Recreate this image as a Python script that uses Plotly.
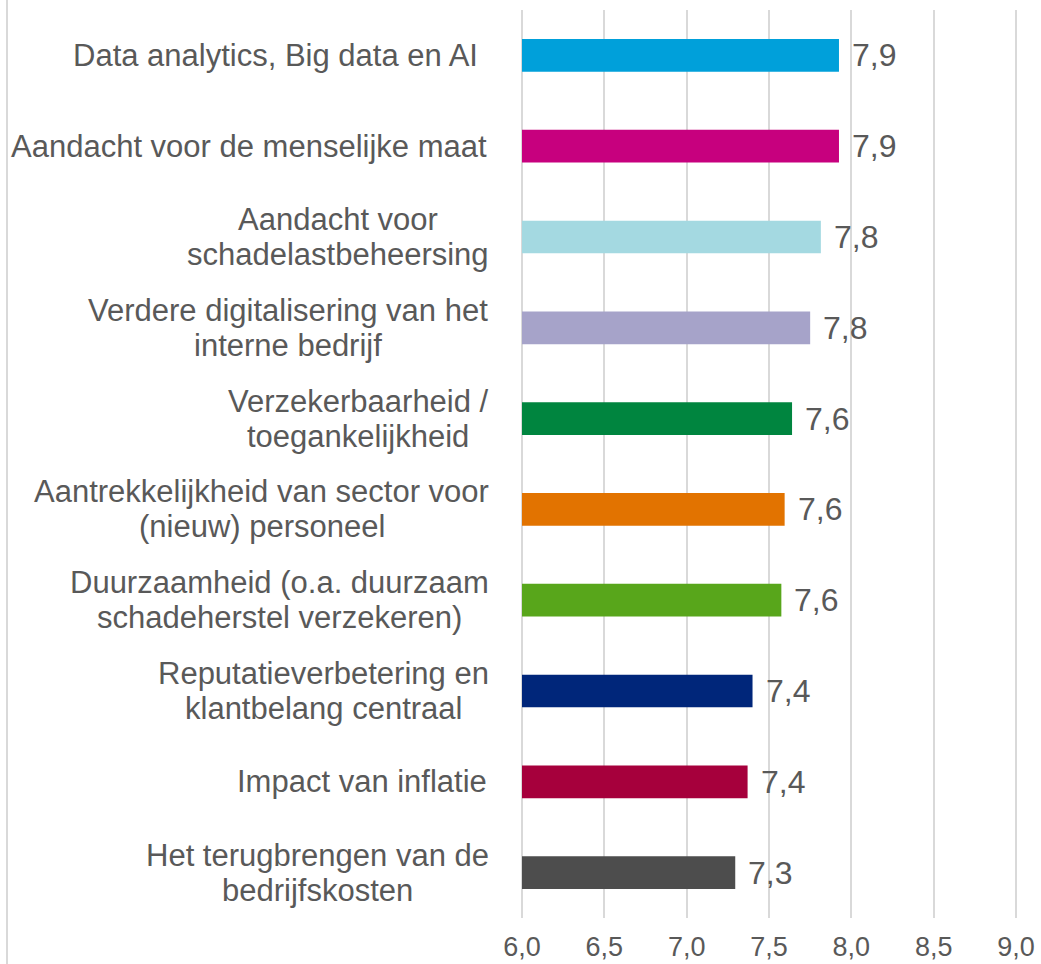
import plotly.graph_objects as go

categories = [
    "Data analytics, Big data en AI\u00a0",
    "Aandacht voor de menselijke maat",
    "Aandacht voor<br>schadelastbeheersing",
    "Verdere digitalisering van het<br>interne bedrijf",
    "Verzekerbaarheid /<br>toegankelijkheid",
    "Aantrekkelijkheid van sector voor<br>(nieuw) personeel",
    "Duurzaamheid (o.a. duurzaam<br>schadeherstel verzekeren)",
    "Reputatieverbetering en<br>klantbelang centraal",
    "Impact van inflatie",
    "Het terugbrengen van de<br>bedrijfskosten",
]
values = [7.925, 7.925, 7.815, 7.75, 7.64, 7.595, 7.575, 7.40, 7.37, 7.295]
value_labels = ["7,9", "7,9", "7,8", "7,8", "7,6", "7,6", "7,6", "7,4", "7,4", "7,3"]
colors = ["#00A0DA", "#C7007E", "#A4D9E1", "#A6A3C9", "#00853F",
          "#E27300", "#58A61B", "#00267A", "#A6003C", "#4D4D4D"]
tick_vals = [6.0, 6.5, 7.0, 7.5, 8.0, 8.5, 9.0]
tick_text = ["6,0", "6,5", "7,0", "7,5", "8,0", "8,5", "9,0"]
axis_min, axis_max = 6.0, 9.0

ids = list(range(len(categories)))

# Arial / Liberation Sans advance widths (units per 1000 em) for centring lines
ARIAL_W = {
    " ": 278, "\u00a0": 278, "(": 333, ")": 333, ",": 278, ".": 278, "/": 278,
    "A": 667, "B": 667, "D": 722, "H": 722, "I": 278, "R": 722, "V": 667,
    "a": 556, "b": 556, "c": 500, "d": 556, "e": 556, "f": 278, "g": 556,
    "h": 556, "i": 222, "j": 222, "k": 500, "l": 222, "m": 833, "n": 556,
    "o": 556, "p": 556, "r": 333, "s": 500, "t": 278, "u": 556, "v": 500,
    "w": 722, "y": 500, "z": 500,
}


def text_width(s, size):
    return sum(ARIAL_W.get(ch, 556) for ch in s) * size / 1000.0


# layout geometry (pixels)
SCALE_W = 494       # px between 6,0 and 9,0
EDGE_PAD = 3        # px of slack so the 6,0 and 9,0 gridlines are drawn
LEFT, RIGHT = 522 - EDGE_PAD, 25 - EDGE_PAD
unit_per_px = (axis_max - axis_min) / SCALE_W
x_range = [axis_min - EDGE_PAD * unit_per_px, axis_max + EDGE_PAD * unit_per_px]
plot_w = SCALE_W + 2 * EDGE_PAD

fig = go.Figure()
fig.add_trace(go.Bar(
    x=[v - axis_min for v in values], base=axis_min, y=ids, orientation="h",
    marker=dict(color=colors, line=dict(width=0)),
    width=0.36,
    hoverinfo="skip",
))

TEXT = "#595959"
FONT = "Liberation Sans, Arial, sans-serif"
CAT_SIZE = 31
LINE_GAP = 35                 # px between the two lines of a label
LABEL_PAD = 27 + EDGE_PAD     # px between label block and plot area

annotations = []
for i, (cat, v, lab) in enumerate(zip(categories, values, value_labels)):
    annotations.append(dict(
        x=v, y=i, xref="x", yref="y", text=lab, showarrow=False,
        xanchor="left", yanchor="middle", xshift=11,
        font=dict(size=32, color=TEXT, family=FONT),
    ))
    lines = cat.split("<br>")
    if len(lines) == 1:
        annotations.append(dict(
            x=0, y=i, xref="x domain", yref="y", text=cat, showarrow=False,
            xanchor="right", yanchor="middle", xshift=-LABEL_PAD,
            font=dict(size=CAT_SIZE, color=TEXT, family=FONT),
        ))
    else:
        block_w = max(text_width(ln, CAT_SIZE) for ln in lines)
        centre = -LABEL_PAD - block_w / 2
        n = len(lines)
        for k, ln in enumerate(lines):
            annotations.append(dict(
                x=0, y=i, xref="x domain", yref="y", text=ln,
                showarrow=False, xanchor="center", yanchor="middle",
                xshift=centre, yshift=((n - 1) / 2 - k) * LINE_GAP,
                font=dict(size=CAT_SIZE, color=TEXT, family=FONT),
            ))

fig.update_layout(
    width=1041, height=964,
    margin=dict(l=LEFT, r=RIGHT, t=10, b=46, autoexpand=False),
    paper_bgcolor="white", plot_bgcolor="white",
    showlegend=False,
    annotations=annotations,
    font=dict(family=FONT, color=TEXT),
    xaxis=dict(
        range=x_range, tickvals=tick_vals, ticktext=tick_text,
        showgrid=True, gridcolor="#D9D9D9", gridwidth=2,
        zeroline=False, showline=False, automargin=False,
        ticklabeloverflow="allow",
        ticks="outside", ticklen=5, tickcolor="rgba(0,0,0,0)",
        tickfont=dict(size=27, color=TEXT, family=FONT),
        fixedrange=True,
    ),
    yaxis=dict(
        range=[len(categories) - 0.5, -0.5], automargin=False,
        showticklabels=False, showgrid=False, zeroline=False, showline=False,
        fixedrange=True,
    ),
    shapes=[dict(
        type="line", xref="paper", yref="paper",
        x0=(7 - LEFT) / plot_w, x1=(7 - LEFT) / plot_w, y0=-0.06, y1=1.02,
        line=dict(color="#D9D9D9", width=2),
    )],
)

fig.write_html(
    "out.html",
    config={"displayModeBar": False},
    post_script="document.body.style.margin='0';document.body.style.overflow='hidden';",
)
